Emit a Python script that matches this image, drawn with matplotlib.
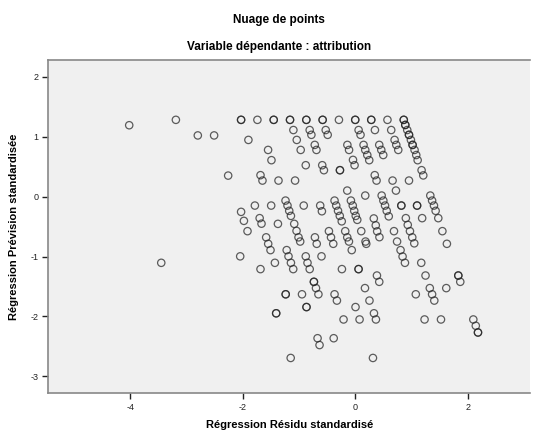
import matplotlib
matplotlib.use("Agg")
import matplotlib.pyplot as plt

plt.rcParams['font.family'] = ['Liberation Sans', 'DejaVu Sans']

# Standardized residual (x) and standardized predicted value (y)
resid = [
    -4.02, -3.45, -3.19, -2.80, -2.51, -2.26,
    # top row
    -2.03, -1.74, -1.45, -1.16, -0.87, -0.58, -0.29, 0.00, 0.285, 0.573, 0.863,
    -2.03, -1.45, -1.16, -0.87, -0.58, 0.00, 0.285, 0.863,
    # y ~ 1.11 / 1.03
    -1.10, -0.81, -0.525, 0.06, 0.35, 0.64, -0.78, -0.49, 0.094,
    # right streak
    0.89, 0.925, 0.956, 0.99, 1.02, 1.055, 1.085, 1.11, 1.18, 1.21,
    0.89, 0.956, 1.02,
    # upper middle
    -1.90, -1.04, -0.72, -0.69, -0.14, -0.11, 0.148, 0.178, 0.214, 0.249,
    0.427, 0.463, 0.498, 0.70, 0.73, 0.765, -1.55, -0.97, -1.49,
    -0.04, -0.012, -0.88, -0.587, -0.557, -0.272, -0.272,
    -1.685, -1.65, -1.365, -1.07, 0.347, 0.379, 0.664, 0.956,
    -0.142, 0.724, 0.178,
    # around zero
    0.47, 0.50, 0.53, 0.56, 0.596,
    1.335, 1.367, 1.40, 1.43, 1.477,
    -1.24, -1.205, -1.174, -1.144,
    -1.785, -1.495, -0.916, 0.82, 1.10, 0.82, 1.10,
    -0.623, -0.593,
    -0.368, -0.338, -0.306, -0.275, -0.24,
    -0.077, -0.044, -0.018, 0.009, 0.036,
    -2.03, -1.98, -1.70, -1.667, -1.375,
    -1.085, -1.044, -1.009, -0.979,
    0.33, 0.365, 0.39, 0.43,
    0.90, 0.934, 0.973, 1.014, 1.05, 1.19,
    # lower middle
    1.55, 1.63, 0.744, 0.806, 0.842, 0.884, 1.174, 1.25,
    1.833, 1.868, 1.833, 1.326, 1.367, 1.406, 1.077, 1.619,
    1.233, 1.525, 2.10, 2.144, 2.183, 2.183,
    0.689, 0.107, 0.183, 0.196, -0.062,
    -0.178, -0.142, -0.112, -0.468, -0.431, -0.391, -0.717, -0.685,
    -0.60, -0.88, -0.849, -0.81,
    -1.219, -1.187, -1.144, -1.103,
    -1.584, -1.548, -1.507, -1.916, -2.046, -1.429, -1.685,
    -0.237, 0.059, 0.059,
    -0.735, -0.698, -0.655, -0.735,
    -1.237, -1.237, -0.947, -0.867, -0.867, -1.406, -1.406,
    -0.368, -0.326, 0.173, 0.253, 0.386, 0.427,
    0.005, 0.333, 0.368, -0.208, 0.077,
    -0.67, -0.635, -0.383, -1.148, 0.315,
]
pred = [
    1.19, -1.105, 1.28, 1.02, 1.02, 0.35,
    1.28, 1.28, 1.28, 1.28, 1.28, 1.28, 1.28, 1.28, 1.28, 1.28, 1.28,
    1.28, 1.28, 1.28, 1.28, 1.28, 1.28, 1.28, 1.28,
    1.11, 1.11, 1.11, 1.11, 1.11, 1.11, 1.03, 1.03, 1.03,
    1.195, 1.11, 1.03, 0.945, 0.862, 0.778, 0.693, 0.607, 0.44, 0.353,
    1.195, 1.03, 0.862,
    0.945, 0.945, 0.862, 0.778, 0.862, 0.778, 0.862, 0.778, 0.693, 0.607,
    0.862, 0.778, 0.693, 0.945, 0.862, 0.778, 0.778, 0.778, 0.607,
    0.612, 0.523, 0.523, 0.523, 0.44, 0.44, 0.44,
    0.357, 0.267, 0.267, 0.267, 0.357, 0.267, 0.267, 0.267,
    0.10, 0.10, 0.017,
    0.017, -0.067, -0.15, -0.238, -0.33,
    0.017, -0.067, -0.15, -0.238, -0.36,
    -0.067, -0.15, -0.238, -0.322,
    -0.15, -0.15, -0.15, -0.15, -0.15, -0.15, -0.15,
    -0.15, -0.245,
    -0.067, -0.15, -0.238, -0.322, -0.413,
    -0.067, -0.15, -0.238, -0.322, -0.388,
    -0.255, -0.405, -0.36, -0.452, -0.455,
    -0.455, -0.572, -0.68, -0.75,
    -0.365, -0.48, -0.58, -0.677,
    -0.36, -0.472, -0.577, -0.68, -0.78, -0.36,
    -0.577, -0.788, -0.75, -0.893, -1.0, -1.105, -1.105, -1.317,
    -1.317, -1.422, -1.317, -1.527, -1.63, -1.735, -1.63, -1.527,
    -2.05, -2.05, -2.05, -2.155, -2.267, -2.267,
    -0.577, -0.577, -0.75, -0.788, -0.893,
    -0.577, -0.68, -0.75, -0.577, -0.68, -0.788, -0.68, -0.788,
    -0.997, -0.997, -1.105, -1.21,
    -0.893, -0.997, -1.105, -1.21,
    -0.68, -0.788, -0.893, -0.577, -0.997, -1.105, -1.21,
    -1.21, -1.21, -1.21,
    -1.422, -1.527, -1.63, -1.422,
    -1.63, -1.63, -1.63, -1.843, -1.843, -1.947, -1.947,
    -1.63, -1.735, -1.527, -1.735, -1.317, -1.422,
    -1.843, -1.947, -2.05, -2.05, -2.05,
    -2.363, -2.477, -2.363, -2.692, -2.692,
]

x_ticks = [-4, -2, 0, 2]
y_ticks = [-3, -2, -1, 0, 1, 2]

title = "Nuage de points"
subtitle = "Variable dépendante : attribution"
x_label = "Régression Résidu standardisé"
y_label = "Régression Prévision standardisée"

fig = plt.figure(figsize=(5.36, 4.34), dpi=100)
fig.patch.set_facecolor('white')
ax = fig.add_axes([0.090, 0.094, 0.899, 0.768])
ax.set_facecolor('#F0F0F0')

ax.scatter(resid, pred, s=28, facecolors='none', edgecolors='#222222',
           linewidths=0.9, alpha=0.72, zorder=3)

ax.set_xlim(-5.46, 3.11)
ax.set_ylim(-3.28, 2.28)
ax.set_xticks(x_ticks)
ax.set_yticks(y_ticks)
ax.set_xticklabels([str(v) for v in x_ticks])
ax.set_yticklabels([str(v) for v in y_ticks])
ax.tick_params(axis='both', labelsize=6.5, length=4, width=1, color='#222222',
               labelcolor='#222222', pad=3)

for side in ['left', 'bottom', 'top']:
    ax.spines[side].set_color('#888888')
    ax.spines[side].set_linewidth(1.2)
ax.spines['right'].set_visible(False)

ax.set_xlabel(x_label, fontsize=8, fontweight='bold', labelpad=6)
ax.set_ylabel(y_label, fontsize=8, fontweight='bold', labelpad=8)

fig.text(0.52, 0.954, title, ha='center', va='center', fontsize=8.5, fontweight='bold')
fig.text(0.52, 0.892, subtitle, ha='center', va='center', fontsize=8.5, fontweight='bold')

fig.savefig('out.png', dpi=100)
